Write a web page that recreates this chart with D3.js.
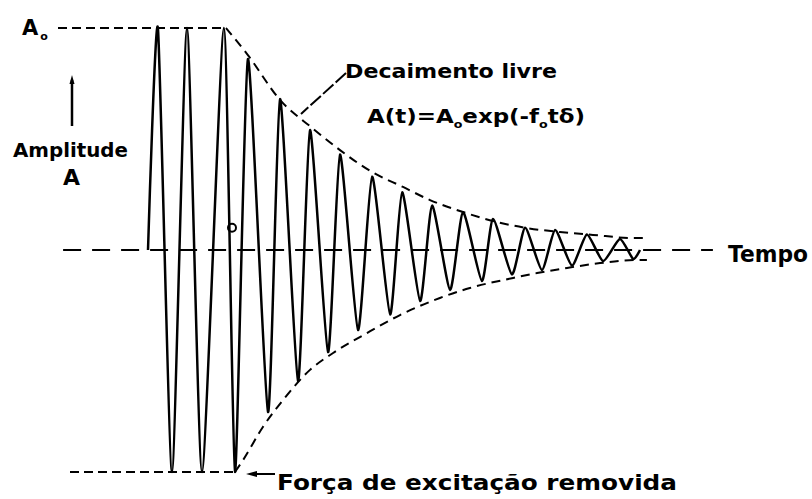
<!DOCTYPE html>
<html>
<head>
<meta charset="utf-8">
<script src="https://cdn.jsdelivr.net/npm/d3@7/dist/d3.min.js"></script>
<style>
  html, body { margin: 0; padding: 0; background: #fff; }
  svg { display: block; }
  text { font-family: "DejaVu Sans", "Liberation Sans", sans-serif; font-weight: bold; fill: #000; }
</style>
</head>
<body>
<svg id="chart" width="812" height="499"></svg>
<script>
// Time in oscillation periods, amplitude relative to A0.
// Forced oscillation (full amplitude) followed by free decay.
const waveT = [0, 0.33, 0.8, 1.3, 1.8, 2.53, 2.9, 3.33, 4.0, 4.4, 5.0, 5.4, 6.0, 6.4, 7.0,
               7.47, 8.07, 8.47, 9.07, 9.47, 10.07, 10.5, 11.13, 11.5, 12.13, 12.57, 13.13,
               13.57, 14.13, 14.63, 15.17, 15.73, 16.17, 16.4];
const waveA = [0, 1, -1, 1, -1, 1, -1, 0.86, -0.73, 0.68, -0.59, 0.54, -0.46, 0.43, -0.36,
               0.33, -0.29, 0.26, -0.23, 0.2, -0.18, 0.17, -0.14, 0.14, -0.11, 0.1, -0.09,
               0.09, -0.07, 0.07, -0.05, 0.05, -0.04, 0];

// Upper envelope of the free decay  A(t) = A0 exp(-f0 t δ)
const upperT = [2.6, 3.33, 4.4, 5.47, 6.4, 7.47, 8.5, 9.4, 10.5, 11.63, 12.63, 13.73, 14.83, 16.17, 16.57];
const upperA = [1.0, 0.878, 0.676, 0.55, 0.45, 0.351, 0.284, 0.225, 0.171, 0.126, 0.099, 0.081, 0.068, 0.054, 0.054];

// Lower envelope
const lowerT = [2.9, 3.17, 3.83, 4.5, 5.4, 6.17, 7.3, 8.4, 9.73, 10.73, 12.17, 12.97, 13.97, 15.07, 16.3, 16.63];
const lowerA = [-1.0, -0.946, -0.797, -0.676, -0.54, -0.464, -0.374, -0.293, -0.216, -0.171, -0.126, -0.104, -0.081, -0.059, -0.045, -0.045];

// Reference levels: +A0, time axis, -A0
const topLineT = [-3, 2.6];
const zeroLineT = [-2.83, 18.83];
const bottomLineT = [-2.6, 2.9];

const labelA0 = "A";
const labelAmplitude = "Amplitude";
const labelAxisA = "A";
const labelDecay = "Decaimento livre";
const labelTime = "Tempo";
const labelForce = "Força de excitação removida";

const svg = d3.select("#chart");

const x = d3.scaleLinear().domain([-3, 19]).range([58, 718]);
const y = d3.scaleLinear().domain([-1, 1]).range([472, 28]);

const zip = (ts, as) => ts.map((t, i) => [t, as[i]]);

// horizontal reference lines
svg.append("line")
  .attr("x1", x(topLineT[0])).attr("x2", x(topLineT[1]))
  .attr("y1", y(1)).attr("y2", y(1))
  .attr("stroke", "#000").attr("stroke-width", 2).attr("stroke-dasharray", "9,5");

svg.append("line")
  .attr("x1", x(bottomLineT[0])).attr("x2", x(bottomLineT[1]))
  .attr("y1", y(-1)).attr("y2", y(-1))
  .attr("stroke", "#000").attr("stroke-width", 2).attr("stroke-dasharray", "9,5");

svg.append("line")
  .attr("x1", x(zeroLineT[0])).attr("x2", x(zeroLineT[1]))
  .attr("y1", y(0)).attr("y2", y(0))
  .attr("stroke", "#000").attr("stroke-width", 2).attr("stroke-dasharray", "18,11");

// decay envelopes
const envLine = d3.line().x(d => x(d[0])).y(d => y(d[1])).curve(d3.curveMonotoneX);
[zip(upperT, upperA), zip(lowerT, lowerA)].forEach(pts => {
  svg.append("path")
    .attr("d", envLine(pts))
    .attr("fill", "none")
    .attr("stroke", "#000")
    .attr("stroke-width", 2)
    .attr("stroke-dasharray", "9,6");
});

// oscillation: nearly straight flanks with rounded crests
const waveLine = d3.line().x(d => x(d[0])).y(d => y(d[1])).curve(d3.curveCardinal.tension(0.4));
svg.append("path")
  .attr("d", waveLine(zip(waveT, waveA)))
  .attr("fill", "none")
  .attr("stroke", "#000")
  .attr("stroke-width", 2.5)
  .attr("stroke-linejoin", "round");

// small origin mark
svg.append("circle")
  .attr("cx", x(2.8)).attr("cy", y(0.1))
  .attr("r", 4)
  .attr("fill", "none").attr("stroke", "#000").attr("stroke-width", 2);

// ---- labels ----
const a0 = svg.append("text").attr("x", 22).attr("y", 35).attr("font-size", 21);
a0.append("tspan").text(labelA0);
a0.append("tspan").attr("dx", 2).attr("dy", 5).attr("font-size", 11).text("o");

// vertical arrow for amplitude
svg.append("line")
  .attr("x1", 72).attr("x2", 72).attr("y1", 80).attr("y2", 126)
  .attr("stroke", "#000").attr("stroke-width", 2.5);
svg.append("path")
  .attr("d", "M69.5,84 L72,75 L74.5,84 Z")
  .attr("fill", "#000");

svg.append("text").attr("x", 13).attr("y", 157).attr("font-size", 20)
  .attr("textLength", 115).attr("lengthAdjust", "spacingAndGlyphs")
  .text(labelAmplitude);
svg.append("text").attr("x", 63).attr("y", 185).attr("font-size", 21)
  .attr("textLength", 17).attr("lengthAdjust", "spacingAndGlyphs")
  .text(labelAxisA);

svg.append("text").attr("x", 345).attr("y", 78).attr("font-size", 20)
  .attr("textLength", 212).attr("lengthAdjust", "spacingAndGlyphs")
  .text(labelDecay);

// leader from the label to the upper envelope
svg.append("line")
  .attr("x1", 346).attr("y1", 73).attr("x2", 301).attr("y2", 114)
  .attr("stroke", "#000").attr("stroke-width", 2).attr("stroke-dasharray", "14,3");

// decay law
const eq = svg.append("text").attr("x", 367).attr("y", 123).attr("font-size", 20)
  .attr("textLength", 218).attr("lengthAdjust", "spacingAndGlyphs");
eq.append("tspan").text("A(t)=A");
eq.append("tspan").attr("dy", 5).attr("font-size", 11).text("o");
eq.append("tspan").attr("dy", -5).text("exp(-f");
eq.append("tspan").attr("dy", 5).attr("font-size", 11).text("o");
eq.append("tspan").attr("dy", -5).text("tδ)");

svg.append("text").attr("x", 728).attr("y", 262).attr("font-size", 23)
  .attr("textLength", 80).attr("lengthAdjust", "spacingAndGlyphs")
  .text(labelTime);

// arrow pointing at the last forced trough
svg.append("line")
  .attr("x1", 252).attr("y1", y(-1) + 2).attr("x2", 275).attr("y2", y(-1) + 2)
  .attr("stroke", "#000").attr("stroke-width", 2);
svg.append("path")
  .attr("d", `M246,${y(-1) + 2} L257,${y(-1) - 1} L257,${y(-1) + 5} Z`)
  .attr("fill", "#000");

svg.append("text").attr("x", 277).attr("y", 490).attr("font-size", 22)
  .attr("textLength", 400).attr("lengthAdjust", "spacingAndGlyphs")
  .text(labelForce);
</script>
</body>
</html>
